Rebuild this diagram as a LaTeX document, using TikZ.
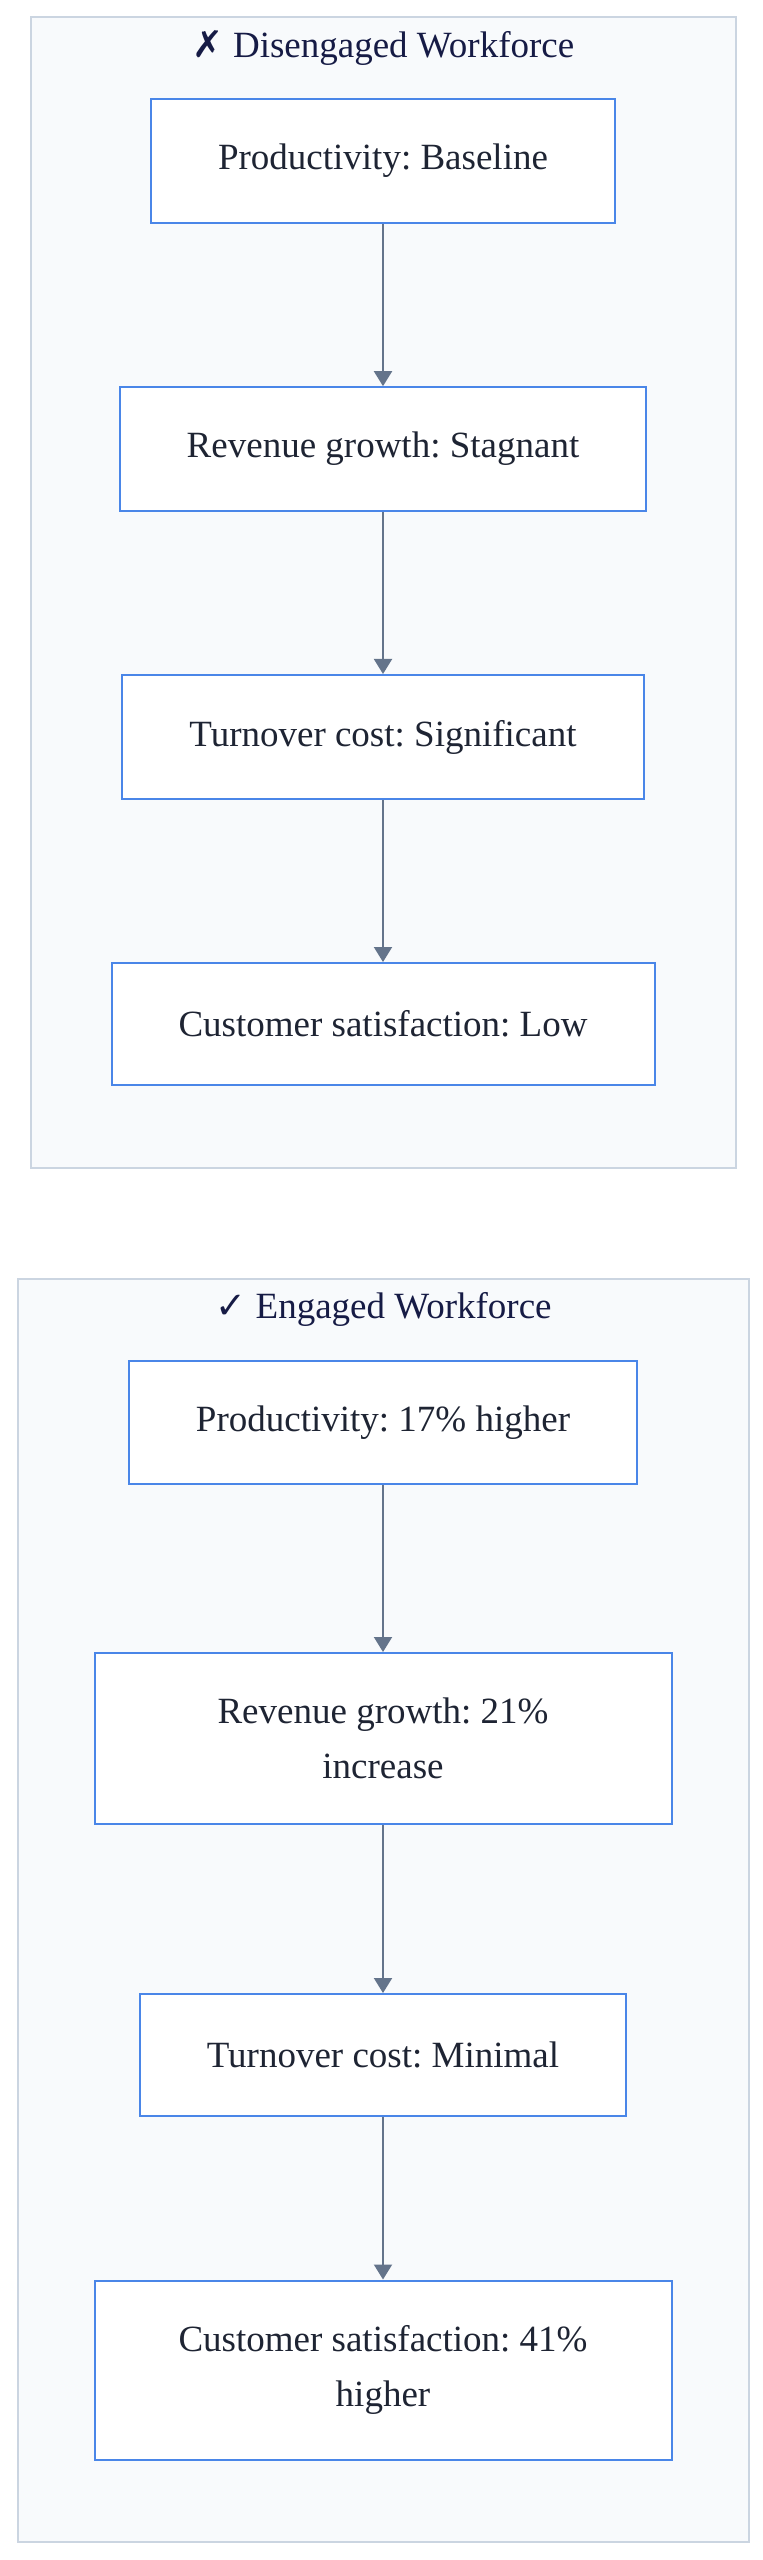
\documentclass[tikz,border=0pt]{standalone}
\usepackage{fontspec}
\setmainfont{Liberation Serif}
\newfontfamily\symfont{DejaVu Sans}
\usetikzlibrary{arrows.meta}
\frenchspacing
\definecolor{clusterfill}{HTML}{F8FAFC}
\definecolor{clusterline}{HTML}{CBD5E1}
\definecolor{boxline}{HTML}{4A86E8}
\definecolor{flowline}{HTML}{64748B}
\definecolor{boxtext}{HTML}{1E2433}
\definecolor{titletext}{HTML}{161B45}
\tikzstyle{cluster}=[draw=clusterline,fill=clusterfill,line width=2pt,inner sep=0pt]
\tikzstyle{stage}=[draw=boxline,fill=white,line width=2pt,text=boxtext,font=\fontsize{37}{55}\selectfont,inner xsep=67pt,inner ysep=45pt,minimum height=122pt,align=center]
\tikzstyle{wide}=[minimum width=577pt]
\tikzstyle{heading}=[text=titletext,font=\fontsize{37}{55}\selectfont,anchor=base]
\tikzstyle{flow}=[draw=flowline,line width=2pt,-{Triangle[length=15pt,width=18pt]}]

\begin{document}
\begin{tikzpicture}[x=1pt,y=-1pt]
\useasboundingbox (0,0) rectangle (763,2560);
\node[cluster,minimum width=705pt,minimum height=1151pt] at (383.5,592.5) (Dis) {};
\node[cluster,minimum width=731pt,minimum height=1263pt] at (383.5,1910.5) (Eng) {};
\node[heading] at (383.5,57) (DisTitle) {{\symfont ✗} Disengaged Workforce};
\node[heading] at (383.5,1318) (EngTitle) {{\symfont ✓} Engaged Workforce};
\node[stage] at (383,161) (DisProd) {Productivity: Baseline};
\node[stage] at (383,449) (DisRev) {Revenue growth: Stagnant};
\node[stage] at (383,737) (DisTurn) {Turnover cost: Significant};
\node[stage] at (383,1024) (DisCust) {Customer satisfaction: Low};
\node[stage] at (383,1422.5) (EngProd) {Productivity: 17\% higher};
\node[stage,wide] at (383,1738.5) (EngRev) {Revenue growth: 21\%\\increase};
\node[stage] at (383,2055) (EngTurn) {Turnover cost: Minimal};
\node[stage,wide] at (383,2370) (EngCust) {Customer satisfaction: 41\%\\higher};
\draw[flow] (DisProd) -- (DisRev);
\draw[flow] (DisRev) -- (DisTurn);
\draw[flow] (DisTurn) -- (DisCust);
\draw[flow] (EngProd) -- (EngRev);
\draw[flow] (EngRev) -- (EngTurn);
\draw[flow] (EngTurn) -- (EngCust);
\end{tikzpicture}
\end{document}
